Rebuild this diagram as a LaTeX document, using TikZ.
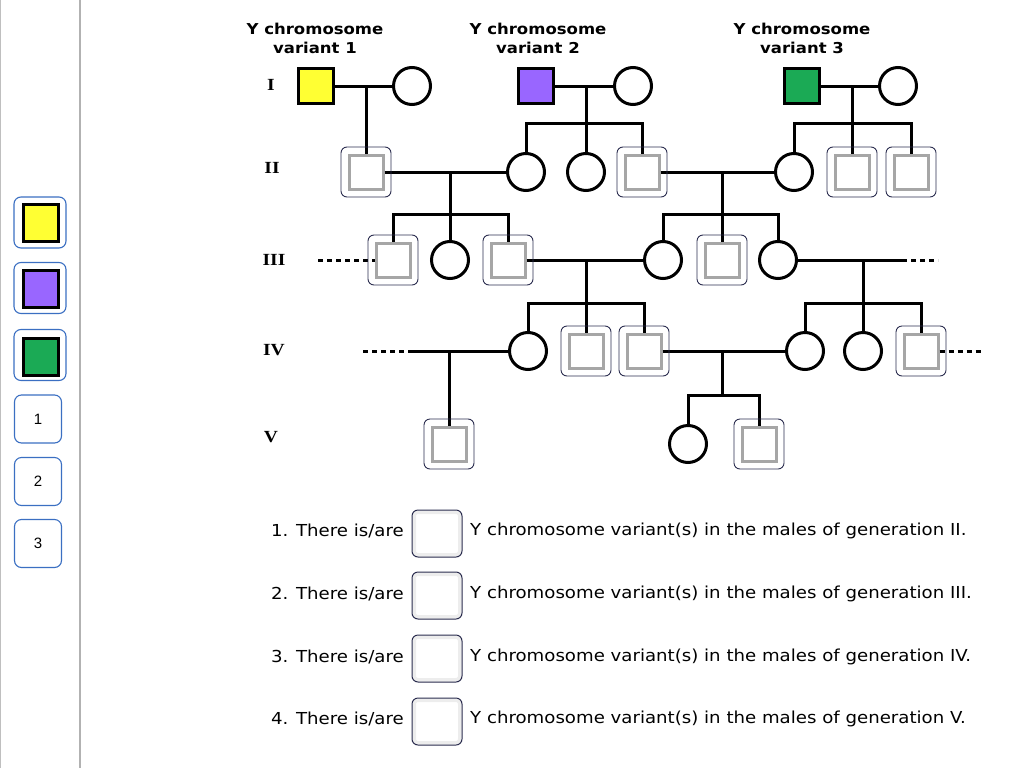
\documentclass[tikz,border=0pt]{standalone}
\usepackage{fontspec}
\setmainfont{DejaVu Sans}[FakeStretch=1.1]
\newfontfamily\genfont{Liberation Serif}[FakeStretch=1.15]
\newfontfamily\btnfont{Liberation Sans}
\usetikzlibrary{positioning,calc}
\definecolor{ylw}{HTML}{FFFF33}
\definecolor{prp}{HTML}{9966FF}
\definecolor{grn}{HTML}{1BAA55}
\definecolor{btnblue}{HTML}{3B6FC2}
\definecolor{navy}{HTML}{2B2D4F}

\begin{document}
\begin{tikzpicture}[x=1pt, y=-1pt,
    line/.style={line width=3pt},
    dashline/.style={line width=3pt, dash pattern=on 5pt off 4pt},
    fem/.style={draw, circle, line width=3pt, minimum size=37pt, inner sep=0pt},
    founder/.style={draw, line width=3pt, minimum size=35pt, inner sep=0pt},
    male/.style={draw=gray!70, line width=3pt, minimum size=34pt, inner sep=0pt},
    frame/.style={draw=navy, line width=0.9pt, rounded corners=6pt, minimum size=50pt, inner sep=0pt},
    title/.style={align=center, font=\bfseries\fontsize{15}{19}\selectfont},
    gen/.style={font=\genfont\bfseries\fontsize{17}{19}\selectfont},
    btn/.style={draw=btnblue, line width=1.1pt, rounded corners=7pt, minimum width=52pt, minimum height=51pt, inner sep=0pt},
    numbtn/.style={draw=btnblue, line width=1.1pt, rounded corners=7pt, minimum width=47pt, minimum height=48pt, inner sep=0pt, font=\btnfont\fontsize{15}{17}\selectfont},
    swatch/.style={draw, line width=3.5pt, minimum width=35pt, minimum height=37pt, inner sep=0pt},
    qtext/.style={font=\fontsize{16.5}{19}\selectfont, inner sep=0pt},
    ansbox/.style={draw=navy, line width=1pt, rounded corners=6pt, minimum width=50pt, minimum height=47pt, inner sep=0pt,
        path picture={\draw[black!7, line width=8pt] (path picture bounding box.south west) rectangle (path picture bounding box.north east);}}]

    \useasboundingbox (0,0) rectangle (1024,768);

    % left panel
    \draw[gray!50, line width=1pt] (0.5,0) -- (0.5,768);
    \draw[gray!60, line width=1.5pt] (80,0) -- (80,768);
    \node[btn] (byellow) at (40,222.5) {};
    \node[swatch, fill=ylw] (syellow) at (41,223) {};
    \node[btn] (bpurple) at (40,288) {};
    \node[swatch, fill=prp] (spurple) at (41,289) {};
    \node[btn] (bgreen) at (40,355) {};
    \node[swatch, fill=grn] (sgreen) at (41,357) {};
    \node[numbtn] (n1) at (38,419) {1};
    \node[numbtn] (n2) at (38,481.5) {2};
    \node[numbtn] (n3) at (38,543.5) {3};

    % headings
    \node[title] (t1) at (315,38.5) {Y chromosome\\variant 1};
    \node[title] (t2) at (538,38.5) {Y chromosome\\variant 2};
    \node[title] (t3) at (802,38.5) {Y chromosome\\variant 3};
    \node[gen] (gI) at (271,85) {I};
    \node[gen] (gII) at (272,168) {II};
    \node[gen] (gIII) at (274,260) {III};
    \node[gen] (gIV) at (274,350) {IV};
    \node[gen] (gV) at (271,437) {V};

    % generation I
    \node[founder, fill=ylw] (i1) at (316,86) {};
    \node[fem] (i2) at (412,86) {};
    \node[founder, fill=prp] (i3) at (536,86) {};
    \node[fem] (i4) at (633,86) {};
    \node[founder, fill=grn] (i5) at (802,86) {};
    \node[fem] (i6) at (898,86) {};

    % generation II
    \node[male] (ii1) at (366,172) {};
    \node[fem] (ii2) at (526,172) {};
    \node[fem] (ii3) at (586,172) {};
    \node[male] (ii4) at (642,172) {};
    \node[fem] (ii5) at (794,172) {};
    \node[male] (ii6) at (852,172) {};
    \node[male] (ii7) at (911,172) {};

    % generation III
    \node[male] (iii1) at (393,260) {};
    \node[fem] (iii2) at (450,260) {};
    \node[male] (iii3) at (508,260) {};
    \node[fem] (iii4) at (663,260) {};
    \node[male] (iii5) at (722,260) {};
    \node[fem] (iii6) at (778,260) {};

    % generation IV
    \node[fem] (iv1) at (528,351) {};
    \node[male] (iv2) at (586,351) {};
    \node[male] (iv3) at (644,351) {};
    \node[fem] (iv4) at (805,351) {};
    \node[fem] (iv5) at (863,351) {};
    \node[male] (iv6) at (921,351) {};

    % generation V
    \node[male] (v1) at (449,444) {};
    \node[fem] (v2) at (688,444) {};
    \node[male] (v3) at (759,444) {};

    % junctions
    \coordinate (ja) at (366,86);
    \coordinate (jb) at (586,86);
    \coordinate (jbs) at (586,123);
    \coordinate (jc) at (852,86);
    \coordinate (jcs) at (852,123);
    \coordinate (jd) at (450,172);
    \coordinate (jds) at (450,214);
    \coordinate (je) at (722,172);
    \coordinate (jes) at (722,214);
    \coordinate (jf) at (586,260);
    \coordinate (jfs) at (586,303);
    \coordinate (jg) at (863,260);
    \coordinate (jgs) at (863,303);
    \coordinate (jh) at (449,351);
    \coordinate (ji) at (722,351);
    \coordinate (jis) at (722,395);
    \coordinate (d1) at (318,260);
    \coordinate (d2a) at (902,260);
    \coordinate (d2) at (938,260);
    \coordinate (d3) at (363,351);
    \coordinate (d3a) at (413,351);
    \coordinate (d4) at (982,351);

    \draw[line] (i1) -- (i2);
    \draw[line] (ja) -- (ii1);
    \draw[line] (i3) -- (i4);
    \draw[line] (jb) -- (ii3);
    \draw[line] (ii2.north) |- (jbs) -| (ii4.north);
    \draw[line] (i5) -- (i6);
    \draw[line] (jc) -- (ii6);
    \draw[line] (ii5.north) |- (jcs) -| (ii7.north);

    \draw[line] (ii1) -- (ii2);
    \draw[line] (jd) -- (iii2);
    \draw[line] (iii1.north) |- (jds) -| (iii3.north);
    \draw[line] (ii4) -- (ii5);
    \draw[line] (je) -- (iii5);
    \draw[line] (iii4.north) |- (jes) -| (iii6.north);
    \draw[dashline] (d1) -- (iii1);

    \draw[line] (iii3) -- (iii4);
    \draw[line] (jf) -- (iv2);
    \draw[line] (iv1.north) |- (jfs) -| (iv3.north);
    \draw[line] (iii6) -- (d2a);
    \draw[dashline] (d2a) -- (d2);
    \draw[line] (jg) -- (iv5);
    \draw[line] (iv4.north) |- (jgs) -| (iv6.north);

    \draw[dashline] (d3) -- (d3a);
    \draw[line] (d3a) -- (iv1);
    \draw[line] (jh) -- (v1);
    \draw[line] (iv3) -- (iv4);
    \draw[line] (ji) -- (jis);
    \draw[line] (v2.north) |- (jis) -| (v3.north);
    \draw[dashline] (iv6) -- (d4);

    % frames round the males
    \node[frame] (ii1f) at (ii1) {};
    \node[frame] (ii4f) at (ii4) {};
    \node[frame] (ii6f) at (ii6) {};
    \node[frame] (ii7f) at (ii7) {};
    \node[frame] (iii1f) at (iii1) {};
    \node[frame] (iii3f) at (iii3) {};
    \node[frame] (iii5f) at (iii5) {};
    \node[frame] (iv2f) at (iv2) {};
    \node[frame] (iv3f) at (iv3) {};
    \node[frame] (iv6f) at (iv6) {};
    \node[frame] (v1f) at (v1) {};
    \node[frame] (v3f) at (v3) {};

    % questions
    \node[qtext, anchor=east] (q1) at (404,531) {1. There is/are};
    \node[ansbox] (a1) at (437,533.5) {};
    \node[qtext, anchor=west] (r1) at (470,531) {Y chromosome variant(s) in the males of generation II.};
    \node[qtext, anchor=east] (q2) at (404,594) {2. There is/are};
    \node[ansbox] (a2) at (437,595.5) {};
    \node[qtext, anchor=west] (r2) at (470,594) {Y chromosome variant(s) in the males of generation III.};
    \node[qtext, anchor=east] (q3) at (404,657) {3. There is/are};
    \node[ansbox] (a3) at (437,658.5) {};
    \node[qtext, anchor=west] (r3) at (470,657) {Y chromosome variant(s) in the males of generation IV.};
    \node[qtext, anchor=east] (q4) at (404,719) {4. There is/are};
    \node[ansbox] (a4) at (437,721.5) {};
    \node[qtext, anchor=west] (r4) at (470,719) {Y chromosome variant(s) in the males of generation V.};
\end{tikzpicture}
\end{document}
